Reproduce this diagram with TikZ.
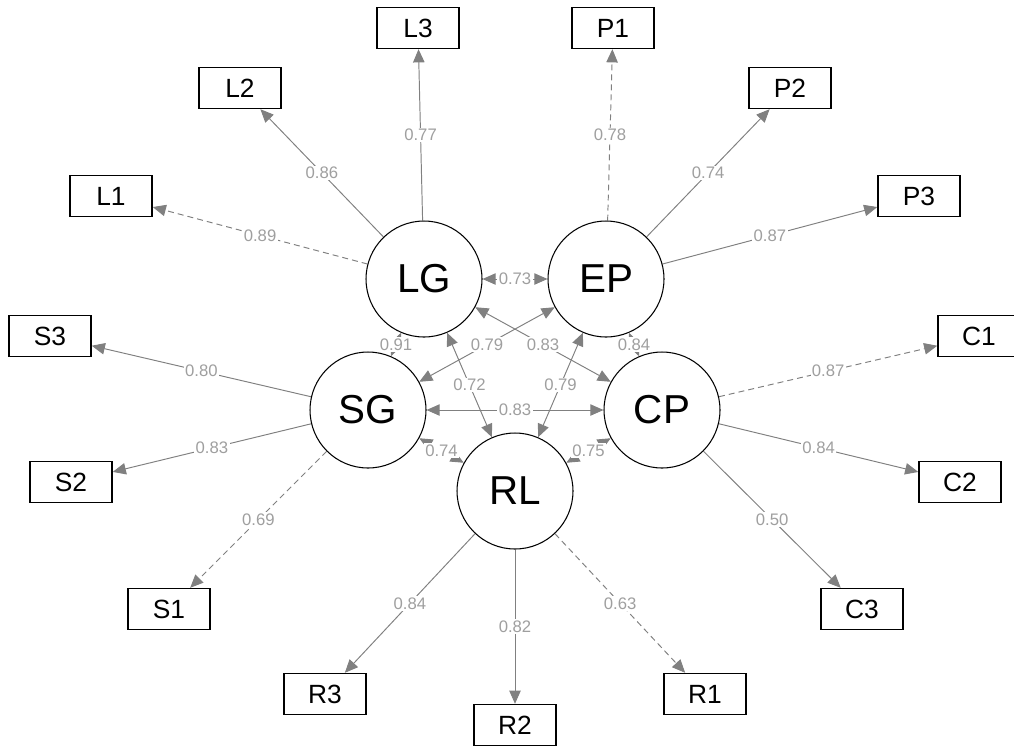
\documentclass[tikz,border=0pt]{standalone}
\usepackage{fontspec}
\setmainfont{Liberation Sans}
\usetikzlibrary{arrows.meta, backgrounds}
\tikzset{
  latent_font/.style = {font=\fontsize{23}{26}\selectfont},
  manifest_font/.style = {font=\fontsize{15}{17}\selectfont},
  coef_font/.style = {font=\fontsize{9.5}{11}\selectfont},
  edge_colour/.style = {draw=gray, line width=0.55pt}
}
\tikzset{
  latent/.style = {latent_font, circle, draw, line width=0.6pt, minimum size=2.32cm, inner sep=0},
  manifest/.style = {manifest_font, rectangle, draw, line width=0.8pt, minimum width=1.64cm, minimum height=0.82cm, inner sep=0},
  loading/.style = {edge_colour, -{Triangle[length=7.5pt, width=6.5pt]}},
  covariance/.style = {edge_colour, {Triangle[length=7.5pt, width=6.5pt]}-{Triangle[length=7.5pt, width=6.5pt]}},
  fixed_load/.style = {dash pattern=on 3.4pt off 2.3pt},
  coef/.style = {coef_font, text=gray!75, fill=white, inner sep=0.8pt}
}
\begin{document}
\begin{tikzpicture}[x=0.02cm, y=-0.02cm]
        \useasboundingbox (0,0) rectangle (1014,745);

        % Latent factors
        \node[latent] at (424,279) (LG) {LG};
        \node[latent] at (606,279) (EP) {EP};
        \node[latent] at (368,410) (SG) {SG};
        \node[latent] at (662,410) (CP) {CP};
        \node[latent] at (515,491) (RL) {RL};

        % Indicators
        \node[manifest] at (111,196) (L1) {L1};
        \node[manifest] at (240,88) (L2) {L2};
        \node[manifest] at (418,28) (L3) {L3};
        \node[manifest] at (613,28) (P1) {P1};
        \node[manifest] at (790,88) (P2) {P2};
        \node[manifest] at (919,196) (P3) {P3};
        \node[manifest] at (169,609) (S1) {S1};
        \node[manifest] at (71,482) (S2) {S2};
        \node[manifest] at (50,336) (S3) {S3};
        \node[manifest] at (979,336) (C1) {C1};
        \node[manifest] at (960,482) (C2) {C2};
        \node[manifest] at (862,609) (C3) {C3};
        \node[manifest] at (705,694) (R1) {R1};
        \node[manifest] at (515,725) (R2) {R2};
        \node[manifest] at (325,694) (R3) {R3};

        \begin{scope}[on background layer]
        % Loadings
        \draw[loading, fixed_load] (LG) -- node[coef] {0.89} (L1);
        \draw[loading] (LG) -- node[coef] {0.86} (L2);
        \draw[loading] (LG) -- node[coef] {0.77} (L3);

        \draw[loading, fixed_load] (EP) -- node[coef] {0.78} (P1);
        \draw[loading] (EP) -- node[coef] {0.74} (P2);
        \draw[loading] (EP) -- node[coef] {0.87} (P3);

        \draw[loading, fixed_load] (SG) -- node[coef] {0.69} (S1);
        \draw[loading] (SG) -- node[coef] {0.83} (S2);
        \draw[loading] (SG) -- node[coef] {0.80} (S3);

        \draw[loading, fixed_load] (CP) -- node[coef] {0.87} (C1);
        \draw[loading] (CP) -- node[coef] {0.84} (C2);
        \draw[loading] (CP) -- node[coef] {0.50} (C3);

        \draw[loading, fixed_load] (RL) -- node[coef] {0.63} (R1);
        \draw[loading] (RL) -- node[coef] {0.82} (R2);
        \draw[loading] (RL) -- node[coef] {0.84} (R3);

        % Covariances
        \draw[covariance] (LG) -- node[coef] {0.73} (EP);
        \draw[covariance] (LG) -- node[coef] {0.91} (SG);
        \draw[covariance] (LG) -- node[coef] {0.83} (CP);
        \draw[covariance] (LG) -- node[coef] {0.72} (RL);
        \draw[covariance] (EP) -- node[coef] {0.79} (SG);
        \draw[covariance] (EP) -- node[coef] {0.84} (CP);
        \draw[covariance] (EP) -- node[coef] {0.79} (RL);
        \draw[covariance] (SG) -- node[coef] {0.83} (CP);
        \draw[covariance] (SG) -- node[coef] {0.74} (RL);
        \draw[covariance] (CP) -- node[coef] {0.75} (RL);
        \end{scope}
\end{tikzpicture}
\end{document}
